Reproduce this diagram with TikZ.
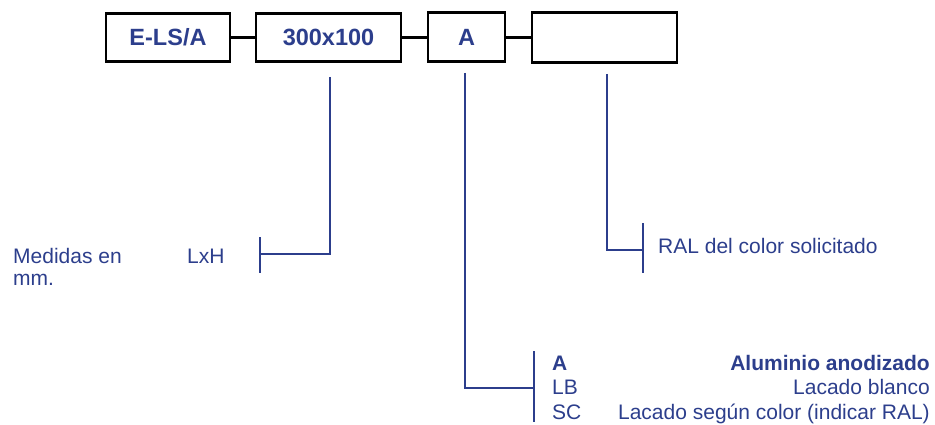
\documentclass[tikz,border=0pt]{standalone}
\usepackage{fontspec}
\setmainfont{Liberation Sans}
\definecolor{dblue}{RGB}{44,62,140}
\begin{document}
\begin{tikzpicture}[x=1pt,y=-1pt,
  codebox/.style={draw=black,line width=2.6pt,fill=white,inner sep=0pt,
    font=\fontsize{23.5}{26}\selectfont\bfseries,text=dblue},
  link/.style={draw=black,line width=3.8pt},
  leader/.style={draw=dblue,line width=2.8pt},
  lbl/.style={inner sep=0pt,font=\fontsize{21}{24}\selectfont,text=dblue},
  blbl/.style={lbl,font=\fontsize{21}{24}\selectfont\bfseries}]
\useasboundingbox (0,0) rectangle (935,425);
% boxes
\node[codebox,minimum width=124pt,minimum height=48pt] (b1) at (168,37.5) {E-LS/A};
\node[codebox,minimum width=145pt,minimum height=48pt] (b2) at (328.5,37.5) {300x100};
\node[codebox,minimum width=77pt,minimum height=49pt] (b3) at (466.5,37) {A};
\node[codebox,minimum width=145pt,minimum height=50pt] (b4) at (604.5,37.5) {};
\draw[link] (b1.east) -- (b2.west);
\draw[link] (b2.east) -- (b2.east -| b3.west);
\draw[link] (b3.east |- b4.west) -- (b4.west);
% leader 1
\coordinate (s1) at (330,77);
\coordinate (k1) at (260,254);
\coordinate (k1a) at (260,237);
\coordinate (k1b) at (260,273);
\draw[leader] (s1) |- (k1);
\draw[leader] (k1a) -- (k1b);
\node[lbl,anchor=base west] (m1) at (13,263) {Medidas en};
\node[lbl,anchor=base west] (m2) at (13,285) {mm.};
\node[lbl,anchor=base west] (lxh) at (187,263) {LxH};
% leader 2
\coordinate (s2) at (465,73);
\coordinate (k2) at (534,388);
\coordinate (k2a) at (534,351);
\coordinate (k2b) at (534,422);
\draw[leader] (s2) |- (k2);
\draw[leader] (k2a) -- (k2b);
\node[blbl,anchor=base west] (c1) at (552,370) {A};
\node[lbl,anchor=base west] (c2) at (552,394) {LB};
\node[lbl,anchor=base west] (c3) at (552,419) {SC};
\node[blbl,anchor=base east] (d1) at (930,370) {Aluminio anodizado};
\node[lbl,anchor=base east] (d2) at (930,394) {Lacado blanco};
\node[lbl,anchor=base east] (d3) at (930,419) {Lacado según color (indicar RAL)};
% leader 3
\coordinate (s3) at (607,74);
\coordinate (k3) at (643,250);
\coordinate (k3a) at (643,223);
\coordinate (k3b) at (643,273);
\draw[leader] (s3) |- (k3);
\draw[leader] (k3a) -- (k3b);
\node[lbl,anchor=base west] (ral) at (658,253) {RAL del color solicitado};
\end{tikzpicture}
\end{document}
